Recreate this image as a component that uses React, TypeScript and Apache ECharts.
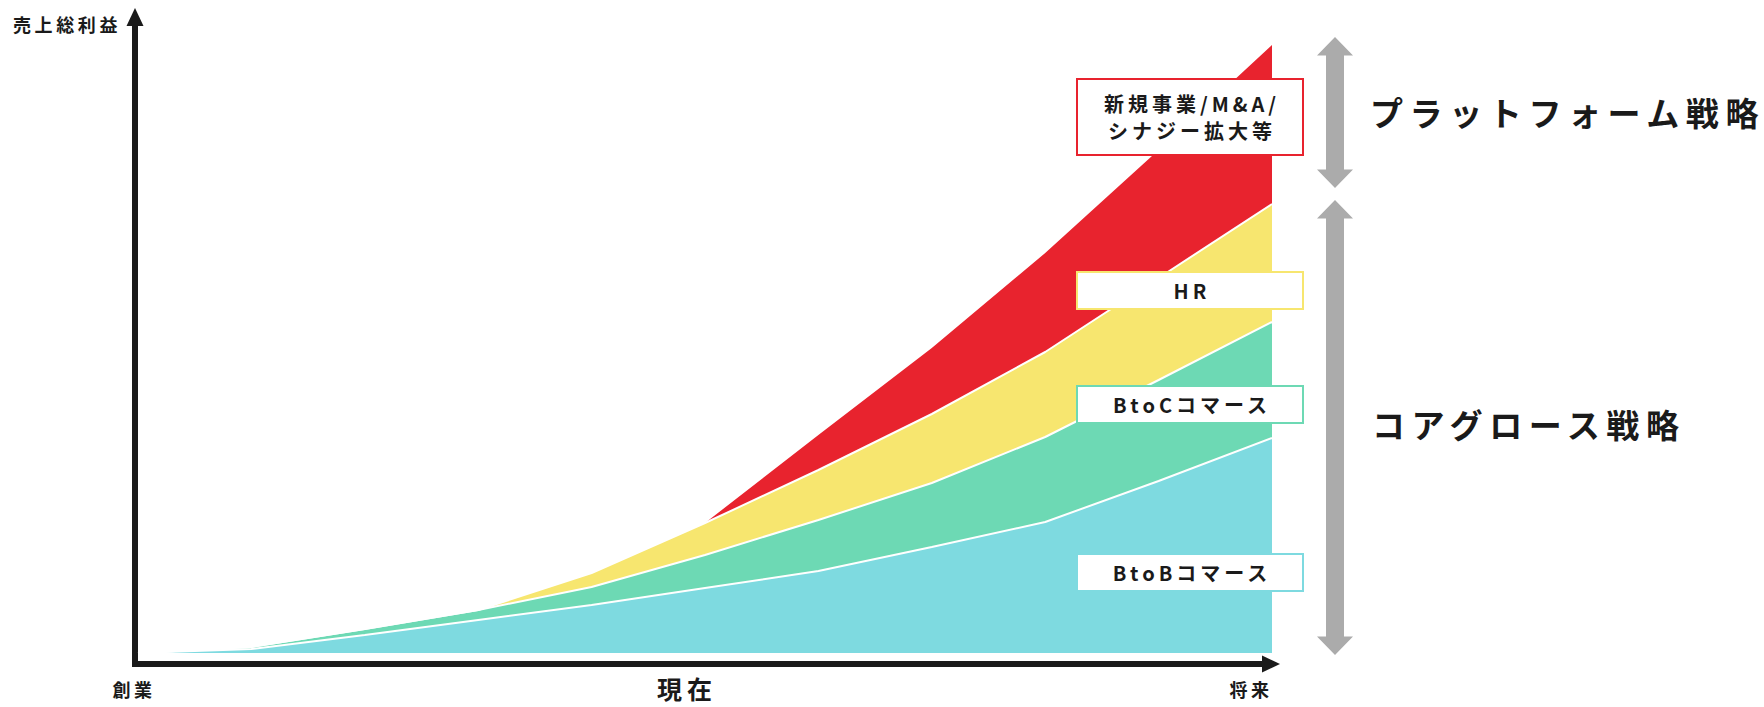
import React, { useEffect, useRef } from "react";
import * as echarts from "echarts";

// ---- data (arbitrary units of gross profit) ----
const timeSteps = ["T0", "T1", "T2", "T3", "T4", "T5", "T6", "T7", "T8", "T9", "T10"];
const btobValues = [0, 4, 18, 33, 48, 65, 82, 106, 131, 172, 215];
const btocValues = [0, 2, 6, 10, 18, 33, 51, 64, 85, 101, 116];
const hrValues = [0, 0, 0, 0, 14, 32, 50, 69, 85, 102, 118];
const newBizValues = [0, 0, 0, 0, 0, 0, 35, 66, 99, 128, 159];

const segmentNames = ["BtoBコマース", "BtoCコマース", "HR", "新規事業/M&A/\nシナジー拡大等"];
const segmentColors = ["#7EDAE0", "#6DD9B4", "#F7E66F", "#E8232E"];
const axisTexts = ["創業", "現在", "将来"];
const yAxisTitle = "売上総利益";
const strategyNames = ["プラットフォーム戦略", "コアグロース戦略"];

const FONT = "'Noto Sans CJK JP', 'Noto Sans', sans-serif";
const INK = "#1a1a1a";
const GRAY = "#ABABAB";

function doubleArrow(cx: number, top: number, bottom: number) {
  const hw = 18, sw = 9, hh = 18.5;
  return {
    type: "polygon",
    shape: {
      points: [
        [cx, top], [cx + hw, top + hh], [cx + sw, top + hh], [cx + sw, bottom - hh],
        [cx + hw, bottom - hh], [cx, bottom], [cx - hw, bottom - hh], [cx - sw, bottom - hh],
        [cx - sw, top + hh], [cx - hw, top + hh],
      ],
    },
    style: { fill: GRAY },
    silent: true,
  };
}

function labelBox(y: number, h: number, color: string, text: string, fontSize: number, lineHeight: number) {
  return [
    {
      type: "rect",
      shape: { x: 1077, y, width: 226, height: h },
      style: { fill: "#ffffff", stroke: color, lineWidth: 2 },
      z: 10,
    },
    {
      type: "text",
      x: 1192,
      y: y + h / 2,
      style: {
        text,
        fill: INK,
        font: `bold ${fontSize}px ${FONT}`,
        textAlign: "center",
        textVerticalAlign: "middle",
        lineHeight,
      },
      z: 11,
    },
  ];
}

export default function App() {
  const ref = useRef<HTMLDivElement>(null);

  useEffect(() => {
    if (!ref.current) return;
    const chart = echarts.init(ref.current, null, { renderer: "svg" });

    const areaValues = [btobValues, btocValues, hrValues, newBizValues];
    const areaSeries = areaValues.map((vals, i) => ({
      name: segmentNames[i],
      type: "line",
      stack: "total",
      data: vals,
      symbol: "none",
      showSymbol: false,
      lineStyle: { width: 0 },
      areaStyle: { color: segmentColors[i], opacity: 1 },
      z: 2,
    }));
    const edgeSeries = areaValues.slice(0, 3).map((vals, i) => ({
      name: segmentNames[i] + "-edge",
      type: "line",
      stack: "edges",
      data: vals,
      symbol: "none",
      showSymbol: false,
      lineStyle: { width: 2, color: "#ffffff" },
      z: 3,
      silent: true,
    }));

    const graphic: any[] = [
      // y axis
      { type: "line", shape: { x1: 135, y1: 667, x2: 135, y2: 22 }, style: { stroke: INK, lineWidth: 6 } },
      { type: "polygon", shape: { points: [[135, 8], [126.5, 26], [143.5, 26]] }, style: { fill: INK } },
      // x axis
      { type: "line", shape: { x1: 132, y1: 664, x2: 1264, y2: 664 }, style: { stroke: INK, lineWidth: 6 } },
      { type: "polygon", shape: { points: [[1280, 664], [1262, 655.5], [1262, 672.5]] }, style: { fill: INK } },
      // axis texts
      {
        type: "text", x: 13, y: 24,
        style: { text: yAxisTitle, fill: INK, font: `bold 18px ${FONT}`, textAlign: "left", textVerticalAlign: "middle" },
      },
      {
        type: "text", x: 134, y: 689,
        style: { text: axisTexts[0], fill: INK, font: `bold 18px ${FONT}`, textAlign: "center", textVerticalAlign: "middle" },
      },
      {
        type: "text", x: 687, y: 688,
        style: { text: axisTexts[1], fill: INK, font: `bold 25px ${FONT}`, textAlign: "center", textVerticalAlign: "middle", lineHeight: 26 },
      },
      {
        type: "text", x: 1251, y: 689,
        style: { text: axisTexts[2], fill: INK, font: `bold 18px ${FONT}`, textAlign: "center", textVerticalAlign: "middle" },
      },
      // strategy arrows
      doubleArrow(1335, 37, 188),
      doubleArrow(1335, 200, 655),
      {
        type: "text", x: 1370, y: 112,
        style: { text: strategyNames[0], fill: INK, font: `bold 33px ${FONT}`, textAlign: "left", textVerticalAlign: "middle" },
      },
      {
        type: "text", x: 1372, y: 424,
        style: { text: strategyNames[1], fill: INK, font: `bold 33px ${FONT}`, textAlign: "left", textVerticalAlign: "middle" },
      },
      // segment label boxes
      ...labelBox(79, 76, segmentColors[3], segmentNames[3], 20, 27),
      ...labelBox(272, 37, segmentColors[2], segmentNames[2], 20, 24),
      ...labelBox(386, 37, segmentColors[1], segmentNames[1], 20, 24),
      ...labelBox(554, 37, segmentColors[0], segmentNames[0], 20, 24),
    ];

    chart.setOption({
      animation: false,
      backgroundColor: "#ffffff",
      grid: { left: 138, right: 492, top: 33, bottom: 54, containLabel: false, outerBoundsMode: "none" },
      xAxis: {
        type: "category",
        data: timeSteps,
        boundaryGap: false,
        axisLine: { show: false },
        axisTick: { show: false },
        axisLabel: { show: false },
        splitLine: { show: false },
      },
      yAxis: {
        type: "value",
        min: 0,
        max: 620,
        axisLine: { show: false },
        axisTick: { show: false },
        axisLabel: { show: false },
        splitLine: { show: false },
      },
      series: [...areaSeries, ...edgeSeries],
      graphic,
    });

    return () => chart.dispose();
  }, []);

  return (
    <>
      <style>{`#cv text{letter-spacing:0.2em}`}</style>
      <div
        id="cv"
        ref={ref}
        style={{ position: "fixed", left: 0, top: 0, width: 1764, height: 707, background: "#fff" }}
      />
    </>
  );
}
